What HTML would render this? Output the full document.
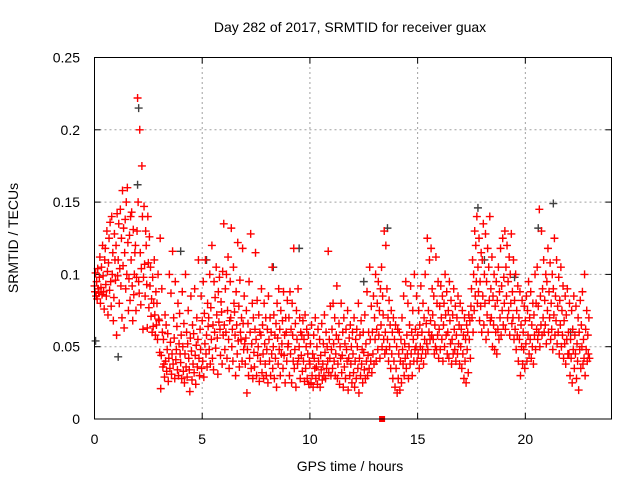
<!DOCTYPE html>
<html><head><meta charset="utf-8">
<style>
html,body{margin:0;padding:0;background:#fff;}
svg{display:block;font-family:"Liberation Sans",sans-serif;}
</style></head>
<body>
<svg id="chart" width="640" height="480" viewBox="0 0 640 480" xmlns="http://www.w3.org/2000/svg">
<rect width="640" height="480" fill="#fff"/>
<text x="350" y="32" font-size="14" text-anchor="middle" fill="#000">Day 282 of 2017, SRMTID for receiver guax</text>
<g id="grid"></g>
<g id="axes"></g>
<g id="gray"></g>
<g id="red"></g>
<rect x="94.5" y="57.5" width="517" height="361.5" fill="none" stroke="#000" stroke-width="1"/>
<text x="350" y="471" font-size="14" text-anchor="middle">GPS time / hours</text>
<text transform="translate(18,238) rotate(-90)" font-size="14" text-anchor="middle">SRMTID / TECUs</text>
</svg>
<script>
const xTicks=[0,5,10,15,20];
const yTicks=[0,0.05,0.1,0.15,0.2,0.25];
const yTickLabels=["0","0.05","0.1","0.15","0.2","0.25"];
// red series values (thousandths of TECU), 4 per 0.1 h bin, starting 0 h
const redVals=[
92,88,101,85, 95,83,104,90, 87,98,112,80, 91,105,86,120, 99,88,76,110, 118,93,85,130, 102,72,108,125, 89,136,95,78, 140,100,115,68, 84,128,110,96,
120,58,142,99, 110,135,80,104, 145,92,125,70, 158,106,132,63, 115,138,90,150, 100,160,122,75, 97,127,82,140, 110,143,92,68, 131,86,100,115, 120,75,98,130,
222,150,95,87, 200,115,79,104, 175,140,62,98, 147,107,85,130, 120,93,63,140, 108,77,126,92, 105,71,83,60, 98,64,80,110, 72,58,88,65, 80,55,100,69,
68,46,125,21, 44,90,60,36, 55,38,29,72, 40,65,33,48, 59,26,42,100, 35,53,87,31, 45,116,38,70, 56,28,95,41, 48,64,34,80, 30,52,73,45,
39,58,28,88, 50,33,66,25, 45,100,36,60, 29,52,75,42, 34,19,56,85, 47,27,65,38, 59,32,90,44, 24,51,70,36, 55,110,42,30, 62,48,85,35,
68,40,95,29, 73,52,110,45, 58,36,80,64, 70,48,100,38, 77,55,120,42, 65,34,95,60, 84,49,105,72, 56,31,88,67, 98,62,44,81, 74,38,102,58,
135,65,48,90, 60,100,42,75, 112,55,35,68, 95,70,132,50, 62,40,105,80, 74,58,30,88, 65,45,122,54, 78,36,96,60, 55,70,40,118, 66,48,85,52,
38,56,75,18, 48,66,30,95, 42,60,128,35, 52,80,28,70, 46,36,62,115, 55,30,82,44, 50,72,26,60, 40,58,90,32, 65,45,28,80, 52,38,70,30,
48,62,25,85, 55,40,70,30, 60,45,105,35, 50,72,28,58, 42,66,22,80, 56,38,90,48, 62,30,75,45, 52,68,35,88, 44,58,25,70, 60,40,82,50,
52,70,30,88, 45,62,25,80, 58,40,118,35, 48,66,22,75, 55,38,90,42, 50,70,28,60, 44,58,33,68, 40,55,26,72, 35,50,62,28, 45,58,24,40,
38,52,25,65, 30,45,22,58, 42,35,70,28, 36,50,24,62, 40,30,55,22, 44,34,66,27, 38,52,30,72, 46,28,60,35, 50,40,116,32, 55,42,78,30,
48,62,35,80, 52,40,70,30, 45,58,92,28, 38,55,66,24, 50,42,80,32, 44,60,22,70, 36,52,28,62, 48,40,75,20, 42,56,30,65, 38,50,25,60,
45,32,70,22, 40,55,28,62, 50,35,80,18, 42,58,30,68, 38,48,25,60, 46,34,72,28, 52,40,88,30, 44,60,35,105, 55,40,78,32, 60,45,85,38,
70,55,100,40, 62,80,48,95, 58,75,42,90, 65,105,50,85, 72,55,130,45, 60,120,48,90, 55,70,40,82, 50,65,35,75, 45,60,28,70, 40,55,22,65,
35,50,18,62, 28,45,60,20, 40,55,25,70, 48,38,85,30, 52,42,95,35, 58,45,80,28, 50,65,38,92, 45,60,30,75, 55,40,100,48, 62,50,85,40,
58,45,75,35, 65,50,92,42, 60,48,80,38, 70,55,100,45, 66,52,125,48, 75,60,110,55, 68,118,58,90, 72,55,85,45, 65,50,112,48, 80,58,95,42,
62,78,48,92, 70,55,85,40, 65,80,50,100, 72,58,88,45, 60,75,42,95, 68,52,82,38, 55,72,45,90, 62,48,78,40, 58,70,45,85, 52,65,38,80,
50,62,35,75, 45,58,28,70, 40,55,25,65, 48,60,32,72, 55,68,42,78, 90,70,110,60, 100,75,130,85, 120,95,140,80, 105,88,125,68, 95,78,115,60,
110,85,135,65, 100,80,128,55, 95,72,118,60, 105,82,140,68, 90,70,112,50, 85,65,100,48, 78,60,95,45, 82,62,105,55, 88,70,118,58, 92,75,125,65,
98,80,130,62, 105,85,120,70, 95,75,112,58, 100,80,128,66, 88,70,110,55, 82,62,100,48, 75,58,92,40, 70,55,88,30, 65,50,82,38, 60,48,78,35,
68,52,85,40, 75,58,95,45, 70,55,88,42, 65,50,80,38, 72,58,100,48, 80,62,105,55, 78,60,145,50, 85,65,130,58, 90,70,110,60, 82,65,100,52,
95,75,118,60, 88,70,108,55, 80,62,100,48, 90,72,125,58, 85,68,110,52, 78,60,98,45, 82,65,105,50, 75,58,92,42, 68,52,85,38, 72,55,90,45,
60,45,80,30, 55,42,75,25, 62,48,85,35, 58,45,78,28, 52,40,70,20, 60,48,82,35, 65,50,88,38, 55,42,100,30, 62,48,75,40, 58,45,70,42
];
const grayTimes=[0.05,1.1,2.0,2.05,4.0,5.2,8.3,9.5,12.5,13.6,17.8,18.1,19.5,20.6,21.3,22.1];
const grayVals=[0.054,0.043,0.162,0.215,0.116,0.110,0.105,0.118,0.095,0.132,0.146,0.110,0.098,0.132,0.149,0.060];
const markTime=[13.35];
const markVal=[0];

const X0=94.5,X1=611.5,Y0=419,Y1=57.5,XMAX=24,YMAX=0.25;
const xs=t=>X0+(X1-X0)*t/XMAX;
const ys=v=>Y0-(Y0-Y1)*v/YMAX;
const NS="http://www.w3.org/2000/svg";
function mk(tag,attrs,parent){const e=document.createElementNS(NS,tag);for(const k in attrs)e.setAttribute(k,attrs[k]);parent.appendChild(e);return e;}
const grid=document.getElementById('grid'),axes=document.getElementById('axes');
xTicks.forEach(t=>{
  const x=xs(t);
  if(t>0){const g=mk('line',{x1:x,x2:x,y1:Y0,y2:Y1,stroke:'#a0a0a0','stroke-dasharray':'2,3'},grid);
  
  }
  mk('line',{x1:x,x2:x,y1:Y0,y2:Y0-6,stroke:'#000'},axes);
  mk('line',{x1:x,x2:x,y1:Y1,y2:Y1+6,stroke:'#000'},axes);
  const l=mk('text',{x:x,y:444,'font-size':14,'text-anchor':'middle'},axes);l.textContent=String(t);
  
  
});
yTicks.forEach((v,i)=>{
  const y=ys(v);
  if(v>0&&v<YMAX){const g=mk('line',{x1:X0,x2:X1,y1:y,y2:y,stroke:'#a0a0a0','stroke-dasharray':'2,3'},grid);
  
  }
  mk('line',{x1:X0,x2:X0+6,y1:y,y2:y,stroke:'#000'},axes);
  mk('line',{x1:X1,x2:X1-6,y1:y,y2:y,stroke:'#000'},axes);
  const l=mk('text',{x:80,y:y+5,'font-size':14,'text-anchor':'end'},axes);l.textContent=yTickLabels[i];
  
  
});
function plus(g,x,y,c){
  return mk('path',{d:`M${x-4},${y}h8M${x},${y-4}v8`,stroke:c,'stroke-width':1.4,fill:'none'},g);
}
const gray=document.getElementById('gray');
grayTimes.forEach((t,i)=>{
  const p=plus(gray,xs(t),ys(grayVals[i]),'#404040');
  
  
});
const red=document.getElementById('red');
redVals.forEach((v,i)=>{
  const bin=Math.floor(i/4),j=i%4;
  const t=bin*0.1+j*0.025;
  const p=plus(red,xs(t),ys(v/1000),'#ff0000');
  
  
});
markTime.forEach((t,i)=>{
  const r=mk('rect',{x:xs(t)-3,y:ys(markVal[i])-3,width:6,height:6,fill:'#ff0000'},red);
  
  
});
</script>
</body></html>
